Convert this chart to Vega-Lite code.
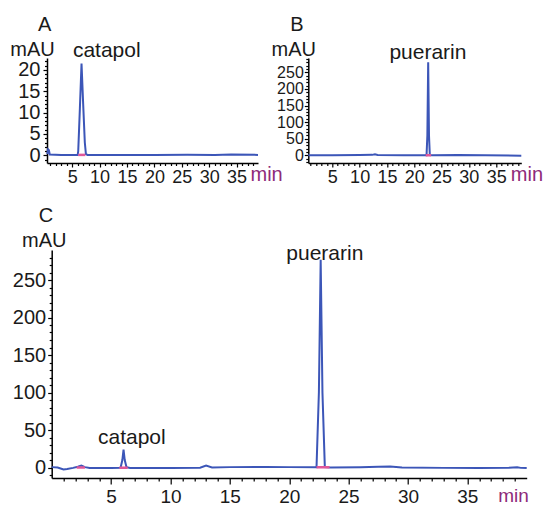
{
  "$schema": "https://vega.github.io/schema/vega-lite/v6.json",
  "padding": {"left": 9, "top": 15, "right": 5, "bottom": 5},
  "config": {"view": {"stroke": null}, "font": "Liberation Sans", "axis": {"grid": false, "domainColor": "#000", "tickColor": "#000", "domainWidth": 1.5, "tickWidth": 1.2, "labelColor": "#1a1a1a", "labelFlush": false, "labelOverlap": false}},
  "datasets": {
    "A": [{"t":0.45,"v":0.3},{"t":0.6,"v":1.4},{"t":0.75,"v":1.2},{"t":0.9,"v":0.2},{"t":3,"v":0.1},{"t":6.0,"v":0.1},{"t":6.1,"v":1},{"t":6.4,"v":11},{"t":6.7,"v":21.5},{"t":7.0,"v":12},{"t":7.3,"v":3},{"t":7.5,"v":0.3},{"t":7.8,"v":0.1},{"t":12,"v":0.1},{"t":20,"v":0.1},{"t":26,"v":0.15},{"t":31,"v":0.1},{"t":34,"v":0.2},{"t":38.9,"v":0.1}],
    "Abase": [{"t":6.1,"v":0.1,"seg":1},{"t":7.4,"v":0.1,"seg":1}],
    "Aann": [{"t":11.3,"v":24.5,"label":"catapol"}],
    "B": [{"t":0.6,"v":0},{"t":5,"v":0.5},{"t":10,"v":0.8},{"t":12.3,"v":1.5},{"t":12.8,"v":3},{"t":13.3,"v":1},{"t":18,"v":0.5},{"t":22.25,"v":0.5},{"t":22.4,"v":60},{"t":22.55,"v":280},{"t":22.7,"v":60},{"t":22.85,"v":1},{"t":23.3,"v":0},{"t":28,"v":1},{"t":33,"v":0},{"t":39.6,"v":-1}],
    "Bbase": [{"t":22.1,"v":0.3,"seg":1},{"t":23.1,"v":0.3,"seg":1}],
    "Bann": [{"t":22.5,"v":307,"label":"puerarin"}],
    "C": [{"t":0,"v":0.5},{"t":0.5,"v":0},{"t":1.0,"v":-2.5},{"t":1.3,"v":-2},{"t":1.8,"v":-0.5},{"t":2.2,"v":1},{"t":2.5,"v":2.5},{"t":2.8,"v":0.5},{"t":3.2,"v":-0.5},{"t":5.0,"v":-0.5},{"t":5.8,"v":-0.3},{"t":5.95,"v":10},{"t":6.05,"v":24},{"t":6.15,"v":10},{"t":6.3,"v":0.5},{"t":6.6,"v":-0.5},{"t":10,"v":-0.5},{"t":12.5,"v":-0.3},{"t":13.0,"v":2.5},{"t":13.5,"v":0},{"t":15,"v":0.5},{"t":18,"v":0.8},{"t":20,"v":0.5},{"t":22.3,"v":0.3},{"t":22.5,"v":100},{"t":22.65,"v":277},{"t":22.8,"v":100},{"t":23.0,"v":0.5},{"t":23.5,"v":0},{"t":26,"v":0.3},{"t":27.5,"v":1},{"t":28.5,"v":1.2},{"t":29.5,"v":0},{"t":33,"v":-0.5},{"t":36,"v":-0.7},{"t":38.5,"v":-0.3},{"t":39.2,"v":0.3},{"t":39.5,"v":-0.5},{"t":40,"v":-0.7}],
    "Cbase": [{"t":2.1,"v":0,"seg":1},{"t":2.8,"v":0,"seg":1},{"t":5.7,"v":-0.3,"seg":2},{"t":6.4,"v":-0.3,"seg":2},{"t":22.3,"v":0.3,"seg":3},{"t":23.4,"v":0.3,"seg":3}],
    "Cann": [{"t":6.75,"v":39,"label":"catapol"},{"t":23.0,"v":285,"label":"puerarin"}],
    "spacer": [{"t":0}]
  },
  "vconcat": [
    {
      "hconcat": [
        {
          "width": 211, "height": 105,
          "title": {"text": "A", "anchor": "start", "frame": "group", "dx": -9, "offset": 4, "fontSize": 20, "fontWeight": "normal", "font": "Liberation Sans", "color": "#1a1a1a"},
          "resolve": {"axis": {"x": "independent", "y": "independent"}},
          "layer": [
            {
              "data": {"name": "A"},
              "mark": {"type": "line", "color": "#3c56b8", "strokeWidth": 2},
              "encoding": {
                "x": {"field": "t", "type": "quantitative", "scale": {"domain": [0.4, 38.9], "nice": false, "zero": false},
                  "axis": {"orient": "bottom", "values": [5,10,15,20,25,30,35], "tickSize": 4, "labelPadding": 1, "labelFont": "Liberation Sans", "labelFontSize": 18,
                    "title": "min", "titleColor": "#8e2a7a", "titleFont": "Liberation Sans", "titleFontSize": 20, "titleFontWeight": "normal", "titleX": 203, "titleY": 11, "titleAlign": "left", "titleBaseline": "middle"}},
                "y": {"field": "v", "type": "quantitative", "scale": {"domain": [-1.8, 22.8], "nice": false, "zero": false},
                  "axis": {"orient": "left", "values": [0,5,10,15,20], "tickSize": 4, "labelPadding": 3, "labelFont": "Liberation Sans", "labelFontSize": 20,
                    "title": "mAU", "titleAngle": 0, "titleFont": "Liberation Sans", "titleFontSize": 20, "titleFontWeight": "normal", "titleColor": "#1a1a1a", "titleX": -15, "titleY": -9, "titleAlign": "center", "titleBaseline": "middle"}}
              }
            },
            {
              "data": {"name": "Abase"},
              "mark": {"type": "line", "color": "#e0579a", "strokeWidth": 2.5},
              "encoding": {
                "x": {"field": "t", "type": "quantitative", "axis": {"orient": "bottom", "values": [1,2,3,4,6,7,8,9,11,12,13,14,16,17,18,19,21,22,23,24,26,27,28,29,31,32,33,34,36,37,38], "labels": false, "domain": false, "title": null, "tickSize": 2.5}},
                "y": {"field": "v", "type": "quantitative", "axis": {"orient": "left", "values": [-1,1,2,3,4,6,7,8,9,11,12,13,14,16,17,18,19,21,22], "labels": false, "domain": false, "title": null, "tickSize": 2.5}},
                "detail": {"field": "seg"}
              }
            },
            {
              "data": {"name": "Aann"},
              "mark": {"type": "text", "fontSize": 21, "font": "Liberation Sans", "color": "#1a1a1a", "baseline": "middle"},
              "encoding": {
                "x": {"field": "t", "type": "quantitative", "axis": null},
                "y": {"field": "v", "type": "quantitative", "axis": null},
                "text": {"field": "label"}
              }
            }
          ]
        },
        {
          "width": 213, "height": 105,
          "title": {"text": "B", "anchor": "start", "frame": "group", "dx": -18, "offset": 4, "fontSize": 20, "fontWeight": "normal", "font": "Liberation Sans", "color": "#1a1a1a"},
          "resolve": {"axis": {"x": "independent", "y": "independent"}},
          "layer": [
            {
              "data": {"name": "B"},
              "mark": {"type": "line", "color": "#3c56b8", "strokeWidth": 2},
              "encoding": {
                "x": {"field": "t", "type": "quantitative", "scale": {"domain": [0.6, 39.6], "nice": false, "zero": false},
                  "axis": {"orient": "bottom", "values": [5,10,15,20,25,30,35], "tickSize": 4, "labelPadding": 1, "labelFont": "Liberation Sans", "labelFontSize": 18,
                    "title": "min", "titleColor": "#8e2a7a", "titleFont": "Liberation Sans", "titleFontSize": 20, "titleFontWeight": "normal", "titleX": 202, "titleY": 11, "titleAlign": "left", "titleBaseline": "middle"}},
                "y": {"field": "v", "type": "quantitative", "scale": {"domain": [-23, 293], "nice": false, "zero": false},
                  "axis": {"orient": "left", "values": [0,50,100,150,200,250], "tickSize": 4, "labelPadding": 1, "labelFont": "Liberation Sans", "labelFontSize": 16,
                    "title": "mAU", "titleAngle": 0, "titleFont": "Liberation Sans", "titleFontSize": 20, "titleFontWeight": "normal", "titleColor": "#1a1a1a", "titleX": -15, "titleY": -9, "titleAlign": "center", "titleBaseline": "middle"}}
              }
            },
            {
              "data": {"name": "Bbase"},
              "mark": {"type": "line", "color": "#e0579a", "strokeWidth": 2.5},
              "encoding": {
                "x": {"field": "t", "type": "quantitative", "axis": {"orient": "bottom", "values": [1,2,3,4,6,7,8,9,11,12,13,14,16,17,18,19,21,22,23,24,26,27,28,29,31,32,33,34,36,37,38,39], "labels": false, "domain": false, "title": null, "tickSize": 2.5}},
                "y": {"field": "v", "type": "quantitative", "axis": {"orient": "left", "values": [-20,-10,10,20,30,40,60,70,80,90,110,120,130,140,160,170,180,190,210,220,230,240,260,270,280,290], "labels": false, "domain": false, "title": null, "tickSize": 2.5}},
                "detail": {"field": "seg"}
              }
            },
            {
              "data": {"name": "Bann"},
              "mark": {"type": "text", "fontSize": 21, "font": "Liberation Sans", "color": "#1a1a1a", "baseline": "middle"},
              "encoding": {
                "x": {"field": "t", "type": "quantitative", "axis": null},
                "y": {"field": "v", "type": "quantitative", "axis": null},
                "text": {"field": "label"}
              }
            }
          ]
        }
      ],
      "spacing": 50.3,
      "bounds": "flush"
    },
    {
      "hconcat": [
        {
          "width": 1, "height": 228,
          "data": {"name": "spacer"},
          "mark": {"type": "point", "opacity": 0},
          "encoding": {}
        },
        {
          "width": 475, "height": 228,
          "title": {"text": "C", "anchor": "start", "frame": "group", "dx": -13, "offset": 4, "fontSize": 20, "fontWeight": "normal", "font": "Liberation Sans", "color": "#1a1a1a"},
          "resolve": {"axis": {"x": "independent", "y": "independent"}},
          "layer": [
            {
              "data": {"name": "C"},
              "mark": {"type": "line", "color": "#3c56b8", "strokeWidth": 2},
              "encoding": {
                "x": {"field": "t", "type": "quantitative", "scale": {"domain": [0, 40], "nice": false, "zero": false},
                  "axis": {"orient": "bottom", "values": [5,10,15,20,25,30,35], "tickSize": 6, "labelPadding": 3, "labelFont": "Liberation Sans", "labelFontSize": 19,
                    "title": "min", "titleColor": "#8e2a7a", "titleFont": "Liberation Sans", "titleFontSize": 19, "titleFontWeight": "normal", "titleX": 446, "titleY": 17, "titleAlign": "left", "titleBaseline": "middle"}},
                "y": {"field": "v", "type": "quantitative", "scale": {"domain": [-14, 290], "nice": false, "zero": false},
                  "axis": {"orient": "left", "values": [0,50,100,150,200,250], "tickSize": 4, "labelPadding": 2, "labelFont": "Liberation Sans", "labelFontSize": 20,
                    "title": "mAU", "titleAngle": 0, "titleFont": "Liberation Sans", "titleFontSize": 20, "titleFontWeight": "normal", "titleColor": "#1a1a1a", "titleX": -8, "titleY": -10, "titleAlign": "center", "titleBaseline": "middle"}}
              }
            },
            {
              "data": {"name": "Cbase"},
              "mark": {"type": "line", "color": "#e0579a", "strokeWidth": 2.5},
              "encoding": {
                "x": {"field": "t", "type": "quantitative", "axis": {"orient": "bottom", "values": [1,2,3,4,6,7,8,9,11,12,13,14,16,17,18,19,21,22,23,24,26,27,28,29,31,32,33,34,36,37,38,39], "labels": false, "domain": false, "title": null, "tickSize": 3}},
                "y": {"field": "v", "type": "quantitative", "axis": {"orient": "left", "values": [-10,10,20,30,40,60,70,80,90,110,120,130,140,160,170,180,190,210,220,230,240,260,270,280], "labels": false, "domain": false, "title": null, "tickSize": 2.5}},
                "detail": {"field": "seg"}
              }
            },
            {
              "data": {"name": "Cann"},
              "mark": {"type": "text", "fontSize": 21, "font": "Liberation Sans", "color": "#1a1a1a", "baseline": "middle"},
              "encoding": {
                "x": {"field": "t", "type": "quantitative", "axis": null},
                "y": {"field": "v", "type": "quantitative", "axis": null},
                "text": {"field": "label"}
              }
            }
          ]
        }
      ],
      "spacing": 3.7,
      "bounds": "flush"
    }
  ],
  "spacing": 20,
  "bounds": "full"
}
